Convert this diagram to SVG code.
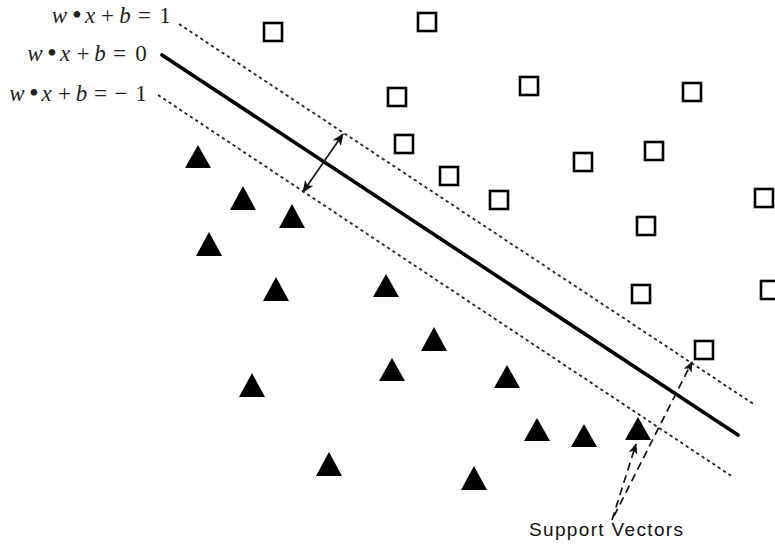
<svg xmlns="http://www.w3.org/2000/svg" width="775" height="544" viewBox="0 0 775 544">
<style>
.sq{fill:#fff;stroke:#000;stroke-width:2.6}
.tri{fill:#000}
.dash{stroke:#222;stroke-width:1.8;stroke-dasharray:3.2 3.2;fill:none}
.solid{stroke:#000;stroke-width:3.6;fill:none;stroke-linecap:round}
.arr{stroke:#111;stroke-width:1.6;fill:none}
.sv{stroke:#111;stroke-width:1.7;fill:none;stroke-dasharray:8 5}
.eq{font-family:"Liberation Serif","Times New Roman",serif;font-size:23px;fill:#222;text-anchor:middle}
.it{font-style:italic}
.dot{font-size:28px}
.lbl{font-family:"Liberation Sans",Arial,sans-serif;font-size:19px;fill:#111}
</style>
<defs>
<marker id="ah" viewBox="0 0 12 10" refX="11" refY="5" markerWidth="12" markerHeight="10" markerUnits="userSpaceOnUse" orient="auto-start-reverse">
<path d="M0,0 L12,5 L0,10 L3,5 z" fill="#111"/>
</marker>
<marker id="ah2" viewBox="0 0 12 10" refX="11" refY="5" markerWidth="11" markerHeight="9" markerUnits="userSpaceOnUse" orient="auto">
<path d="M0,0 L12,5 L0,10 L3,5 z" fill="#111"/>
</marker>
</defs>
<g id="labels">
<text class="eq" y="23"><tspan class="it" x="59.5">w</tspan><tspan class="dot" x="77" y="24">•</tspan><tspan class="it" x="90" y="23">x</tspan><tspan x="107.5">+</tspan><tspan class="it" x="125">b</tspan><tspan x="144.5">=</tspan><tspan x="165">1</tspan></text>
<text class="eq" y="61"><tspan class="it" x="35">w</tspan><tspan class="dot" x="52" y="62">•</tspan><tspan class="it" x="65" y="61">x</tspan><tspan x="83">+</tspan><tspan class="it" x="100">b</tspan><tspan x="119.5">=</tspan><tspan x="141">0</tspan></text>
<text class="eq" y="101"><tspan class="it" x="17">w</tspan><tspan class="dot" x="34" y="102">•</tspan><tspan class="it" x="46.5" y="101">x</tspan><tspan x="64.5">+</tspan><tspan class="it" x="81.5">b</tspan><tspan x="100.5">=</tspan><tspan x="121">−</tspan><tspan x="141">1</tspan></text>
<text class="lbl" x="529" y="536" textLength="154" lengthAdjust="spacing">Support Vectors</text>
</g>
<g id="connectors">
<line class="dash" x1="179" y1="24" x2="755" y2="405"/>
<line class="solid" x1="162" y1="55" x2="738" y2="435"/>
<line class="dash" x1="158" y1="95" x2="733" y2="477"/>
<line class="arr" x1="303" y1="192" x2="343" y2="134" marker-start="url(#ah)" marker-end="url(#ah)"/>
<line class="sv" x1="612" y1="520" x2="636" y2="444" marker-end="url(#ah2)"/>
<line class="sv" x1="614" y1="516" x2="692" y2="362" marker-end="url(#ah2)"/>
</g>
<g id="squares">
<g id="s1"><rect class="sq" x="264" y="23" width="18" height="18"/></g>
<g id="s2"><rect class="sq" x="418" y="13" width="18" height="18"/></g>
<g id="s3"><rect class="sq" x="388" y="88" width="18" height="18"/></g>
<g id="s4"><rect class="sq" x="520" y="77" width="18" height="18"/></g>
<g id="s5"><rect class="sq" x="395" y="135" width="18" height="18"/></g>
<g id="s6"><rect class="sq" x="440" y="167" width="18" height="18"/></g>
<g id="s7"><rect class="sq" x="490" y="191" width="18" height="18"/></g>
<g id="s8"><rect class="sq" x="574" y="153" width="18" height="18"/></g>
<g id="s9"><rect class="sq" x="645" y="142" width="18" height="18"/></g>
<g id="s10"><rect class="sq" x="683" y="83" width="18" height="18"/></g>
<g id="s11"><rect class="sq" x="637" y="217" width="18" height="18"/></g>
<g id="s12"><rect class="sq" x="755" y="189" width="18" height="18"/></g>
<g id="s13"><rect class="sq" x="632" y="285" width="18" height="18"/></g>
<g id="s14"><rect class="sq" x="761" y="281" width="18" height="18"/></g>
<g id="s15"><rect class="sq" x="695" y="341" width="18" height="18"/></g>
</g>
<g id="triangles">
<g id="t1"><path class="tri" d="M198,145 L211,168 L185,168 z"/></g>
<g id="t2"><path class="tri" d="M243,186 L256,210 L230,210 z"/></g>
<g id="t3"><path class="tri" d="M292,204 L305,228 L279,228 z"/></g>
<g id="t4"><path class="tri" d="M209,232 L222,256 L196,256 z"/></g>
<g id="t5"><path class="tri" d="M276,277 L289,301 L263,301 z"/></g>
<g id="t6"><path class="tri" d="M386,274 L399,297 L373,297 z"/></g>
<g id="t7"><path class="tri" d="M434,327 L447,351 L421,351 z"/></g>
<g id="t8"><path class="tri" d="M392,358 L405,381 L379,381 z"/></g>
<g id="t9"><path class="tri" d="M507,365 L520,388 L494,388 z"/></g>
<g id="t10"><path class="tri" d="M252,373 L265,397 L239,397 z"/></g>
<g id="t11"><path class="tri" d="M329,452 L342,476 L316,476 z"/></g>
<g id="t12"><path class="tri" d="M474,466 L487,490 L461,490 z"/></g>
<g id="t13"><path class="tri" d="M537,418 L550,441 L524,441 z"/></g>
<g id="t14"><path class="tri" d="M584,424 L597,447 L571,447 z"/></g>
<g id="t15"><path class="tri" d="M638,417 L651,440 L625,440 z"/></g>
</g>
</svg>
